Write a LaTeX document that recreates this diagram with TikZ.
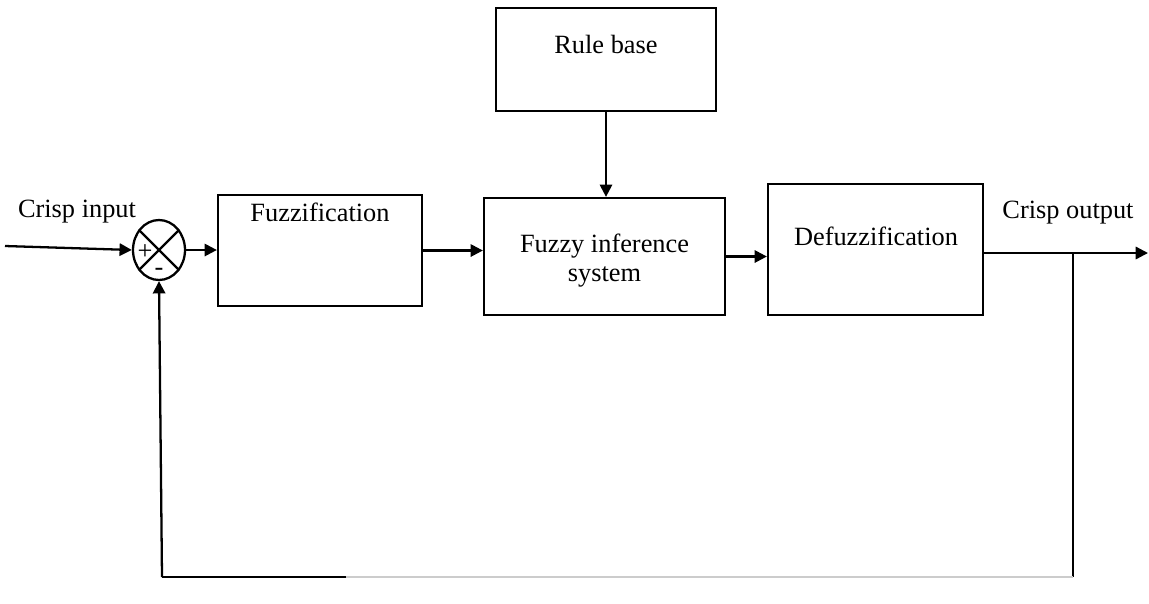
\documentclass[tikz,border=0pt]{standalone}
\usepackage{fontspec}
\setmainfont{Liberation Serif}
\usetikzlibrary{arrows.meta,positioning,calc,shapes.geometric}

\tikzset{
  blk/.style={draw, rectangle, line width=1.3pt, inner sep=0pt},
  sig/.style={line width=1.3pt, -{Triangle[length=7pt,width=7pt]}},
  wire/.style={line width=1.3pt},
}

\begin{document}
\begin{tikzpicture}[x=0.02cm, y=-0.02cm, font=\fontsize{15}{17}\selectfont]
            \useasboundingbox (0,0) rectangle (1149,603);

            % Define blocks
            \node[blk, minimum width=4.4cm, minimum height=2.06cm] (rule) at (606,59.5) {};
            \node[blk, minimum width=4.08cm, minimum height=2.22cm] (fuzz) at (320,250.5) {};
            \node[blk, minimum width=4.82cm, minimum height=2.34cm] (fis) at (604.5,256.5) {};
            \node[blk, minimum width=4.3cm, minimum height=2.62cm] (defuzz) at (875.5,249.5) {};
            \node[draw, ellipse, line width=1.3pt, minimum width=1.04cm, minimum height=1.2cm, inner sep=0pt] (sum) at (159,250) {};

            % Block texts
            \node (rulet) at (606,44) {Rule base};
            \node (fuzzt) at (320,212) {Fuzzification};
            \node[align=center] (fist) at (604.5,260.5) {Fuzzy inference\\system};
            \node (defuzzt) at (876,236) {Defuzzification};
            \node (int) at (77,212) {Crisp input};
            \node (outt) at (1068,213) {Crisp output};

            % Summing junction
            \draw[wire] (sum.45) -- (sum.225);
            \draw[wire] (sum.135) -- (sum.315);
            \node[font=\fontsize{15}{15}\selectfont, inner sep=0pt] (plus) at (145,252) {+};
            \node[font=\fontsize{15}{15}\selectfont, inner sep=0pt] (minus) at (159,272) {-};

            % Coordinates
            \coordinate (in) at (5,246);
            \coordinate (out) at (1148,253);
            \coordinate (br) at (1073,253);
            \coordinate (fb) at (1073,577);
            \coordinate (fbm) at (346,577);
            \coordinate (fbl) at (162,577);

            % Draw edges with arrows
            \draw[sig] (in) -- (sum.west);
            \draw[sig] (sum.east) -- (sum.east -| fuzz.west);
            \draw[sig] (fuzz.east) -- (fuzz.east -| fis.west);
            \draw[sig] (rule.south) -- (rule.south |- fis.north);
            \draw[sig] (fis.east) -- (fis.east -| defuzz.west);
            \draw[sig] (defuzz.east |- out) -- (out);

            % Feedback path
            \draw[wire] (br) -- (fb);
            \draw[gray!40, line width=0.7pt] (fb) -- (fbm);
            \draw[wire] (fbm) -- (fbl);
            \draw[sig] (fbl) -- (sum.south);
        \end{tikzpicture}
\end{document}
